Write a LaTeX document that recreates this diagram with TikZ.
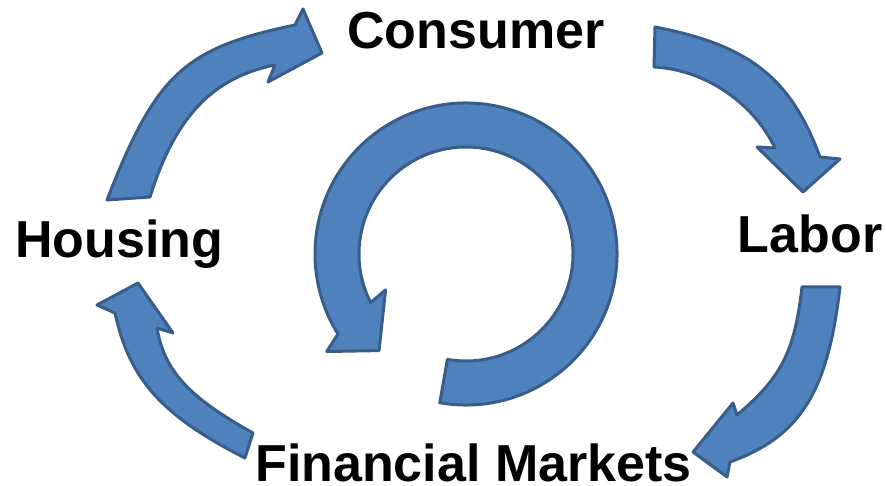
\documentclass[tikz,border=0pt]{standalone}
\usepackage{fontspec}
\setmainfont{Liberation Sans}
\usepackage{tikz}
\usetikzlibrary{calc}

\definecolor{arrowfill}{HTML}{4F81BD}
\definecolor{arrowline}{HTML}{385D8A}

\begin{document}
\begin{tikzpicture}[x=1pt,y=-1pt,
  blockarrow/.style={fill=arrowfill,draw=arrowline,line width=3pt,line join=round},
  lbl/.style={font=\bfseries\fontsize{52}{60}\selectfont,anchor=base,inner sep=0pt}]

\useasboundingbox (0,0) rectangle (886,486);

% outer cycle
\filldraw[blockarrow] (107,200) .. controls (155.8,74.4) and (184,48.1) .. (295,25)
  -- (303,9) -- (322,53) -- (268,82) -- (275,65)
  .. controls (212.5,77.5) and (175,117.1) .. (150,197) -- cycle;

\filldraw[blockarrow] (655,27) .. controls (749.4,45.2) and (790.6,77.7) .. (820,157)
  -- (840,159) -- (803,192) -- (757,147) -- (775,148)
  .. controls (752.9,102) and (704.5,69.6) .. (654,67) -- cycle;

\filldraw[blockarrow] (840,287) .. controls (827.7,392.8) and (800.2,436.5) .. (730,462)
  -- (727,477) -- (693,452) -- (733,403) -- (737,415)
  .. controls (781.5,377.4) and (794.5,351.8) .. (802,287) -- cycle;

\filldraw[blockarrow] (245,458) .. controls (161.9,415.7) and (129.4,379.5) .. (115,313)
  -- (97,305) -- (138,283) -- (173,333) -- (157,328)
  .. controls (164.4,370.8) and (188.4,397) .. (253,433) -- cycle;

% inner ring
\coordinate (ring) at (466,254);
\filldraw[blockarrow] ($(ring)+(100:151)$) arc[start angle=100,end angle=-212,radius=151]
  -- ($(ring)+(-215:170)$) -- ($(ring)+(-228:130)$) -- ($(ring)+(-204:88)$)
  -- ($(ring)+(-207:107)$) arc[start angle=-207,end angle=100,radius=107] -- cycle;

\node[lbl] (consumer) at (476,49) {Consumer};
\node[lbl] (housing) at (119,258) {Housing};
\node[lbl] (labor) at (810,253) {Labor};
\node[lbl] (markets) at (473.5,481) {Financial Markets};

\end{tikzpicture}
\end{document}
